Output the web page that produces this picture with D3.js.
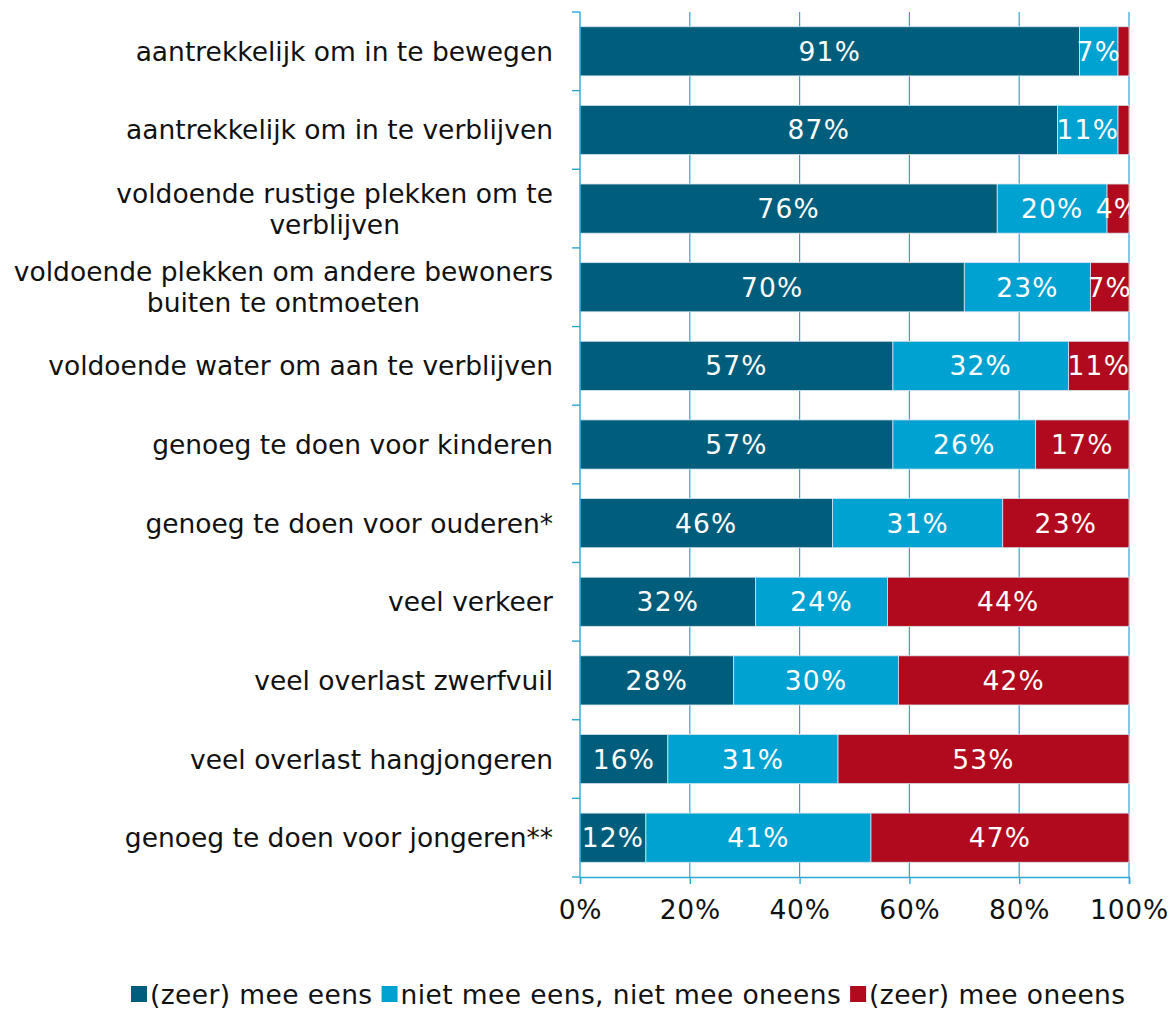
<!DOCTYPE html>
<html><head><meta charset="utf-8">
<script src="https://cdn.jsdelivr.net/npm/d3@7"></script>
<style>body{margin:0;background:#fff}svg{display:block}text{font-family:"DejaVu Sans",Verdana,sans-serif}</style>
</head><body>
<svg id="c" width="1172" height="1011"></svg>
<script>
const categories = [
  ["aantrekkelijk om in te bewegen"],
  ["aantrekkelijk om in te verblijven"],
  ["voldoende rustige plekken om te","verblijven"],
  ["voldoende plekken om andere bewoners","buiten te ontmoeten"],
  ["voldoende water om aan te verblijven"],
  ["genoeg te doen voor kinderen"],
  ["genoeg te doen voor ouderen*"],
  ["veel verkeer"],
  ["veel overlast zwerfvuil"],
  ["veel overlast hangjongeren"],
  ["genoeg te doen voor jongeren**"]
];
const seriesNames = ["(zeer) mee eens","niet mee eens, niet mee oneens","(zeer) mee oneens"];
const eens    = [91,87,76,70,57,57,46,32,28,16,12];
const neutraal = [7,11,20,23,32,26,31,24,30,31,41];
const oneens  = [2,2,4,7,11,17,23,44,42,53,47];
const tickValues = [0,20,40,60,80,100];
const colors = ["#005e7c","#00a2d1","#b10a1e"];

const FS = 26.5;
const svg = d3.select("#c");
const pLeft = 580, pRight = 1129, pTop = 12, pBottom = 877;
const x = d3.scaleLinear().domain([0,100]).range([pLeft,pRight]);
const y = d3.scaleBand().domain(d3.range(categories.length)).range([pTop,pBottom]).paddingInner(0.375).paddingOuter(0.1875);
const gridColor = "#2aa7d8";

svg.append("g").selectAll("line").data(tickValues.slice(1)).join("line")
  .attr("x1",d=>x(d)).attr("x2",d=>x(d)).attr("y1",pTop).attr("y2",pBottom)
  .attr("stroke",gridColor).attr("stroke-width",1.2);

const rows = categories.map((c,i)=>({i, vals:[eens[i],neutraal[i],oneens[i]]}));
const defs = svg.append("defs");
defs.append("clipPath").attr("id","pc").append("rect").attr("x",pLeft).attr("y",pTop).attr("width",pRight-pLeft).attr("height",pBottom-pTop);

const segs = [];
rows.forEach(r=>{let acc=0; r.vals.forEach((v,k)=>{segs.push({i:r.i,k,v,x0:acc,x1:acc+v}); acc+=v;});});

svg.append("g").selectAll("rect").data(segs).join("rect")
  .attr("x",d=>x(d.x0)).attr("width",d=>x(d.x1)-x(d.x0))
  .attr("y",d=>y(d.i)).attr("height",y.bandwidth())
  .attr("fill",d=>colors[d.k]).attr("stroke","#d6e4ee").attr("stroke-width",0.8);

svg.append("g").attr("clip-path","url(#pc)").selectAll("text").data(segs.filter(d=>d.v>=3)).join("text")
  .attr("x",d=>x((d.x0+d.x1)/2)).attr("y",d=>y(d.i)+y.bandwidth()/2)
  .attr("dy","0.36em").attr("text-anchor","middle").attr("fill","#fff")
  .attr("font-size",FS).attr("letter-spacing",1.2).text(d=>d.v+"%");

svg.append("line").attr("x1",pLeft).attr("x2",pLeft).attr("y1",pTop).attr("y2",pBottom).attr("stroke",gridColor).attr("stroke-width",1.4);
svg.append("g").selectAll("line").data(d3.range(categories.length+1)).join("line")
  .attr("x1",pLeft-8).attr("x2",pLeft).attr("y1",d=>pTop+d*(pBottom-pTop)/categories.length).attr("y2",d=>pTop+d*(pBottom-pTop)/categories.length)
  .attr("stroke",gridColor).attr("stroke-width",1.4);

const xAxis = d3.axisBottom(x).tickValues(tickValues).tickFormat(d=>d+"%").tickSize(7).tickPadding(16);
const gx = svg.append("g").attr("transform",`translate(0,${pBottom})`).call(xAxis);
gx.select(".domain").attr("stroke",gridColor).attr("stroke-width",1.4);
gx.selectAll(".tick line").attr("stroke",gridColor).attr("stroke-width",1.4);
gx.selectAll(".tick text").attr("font-size",FS).attr("letter-spacing",0.8).attr("fill","#111").attr("font-family","DejaVu Sans, Verdana, sans-serif");

const lab = svg.append("g");
categories.forEach((lines,i)=>{
  const cy = y(i)+y.bandwidth()/2;
  const lh = 31;
  const g = lab.append("g");
  const t = g.append("text").attr("font-size",FS).attr("fill","#111").attr("text-anchor","middle");
  lines.forEach((ln,j)=>{
    t.append("tspan").attr("x",0).attr("y",cy+(j-(lines.length-1)/2)*lh).attr("dy","0.36em").text(ln);
  });
  const w = t.node().getBBox().width;
  g.attr("transform",`translate(${553-w/2},0)`);
});

const leg = svg.append("g").attr("transform","translate(0,994)");
let lx = 131;
seriesNames.forEach((n,k)=>{
  leg.append("rect").attr("x",lx).attr("y",-8).attr("width",16).attr("height",16).attr("fill",colors[k]);
  const t = leg.append("text").attr("x",lx+19).attr("y",0).attr("dy","0.36em").attr("font-size",FS).attr("letter-spacing",0.4).attr("fill","#111").text(n);
  lx += 19 + t.node().getComputedTextLength() + 9;
});
</script>
</body></html>
